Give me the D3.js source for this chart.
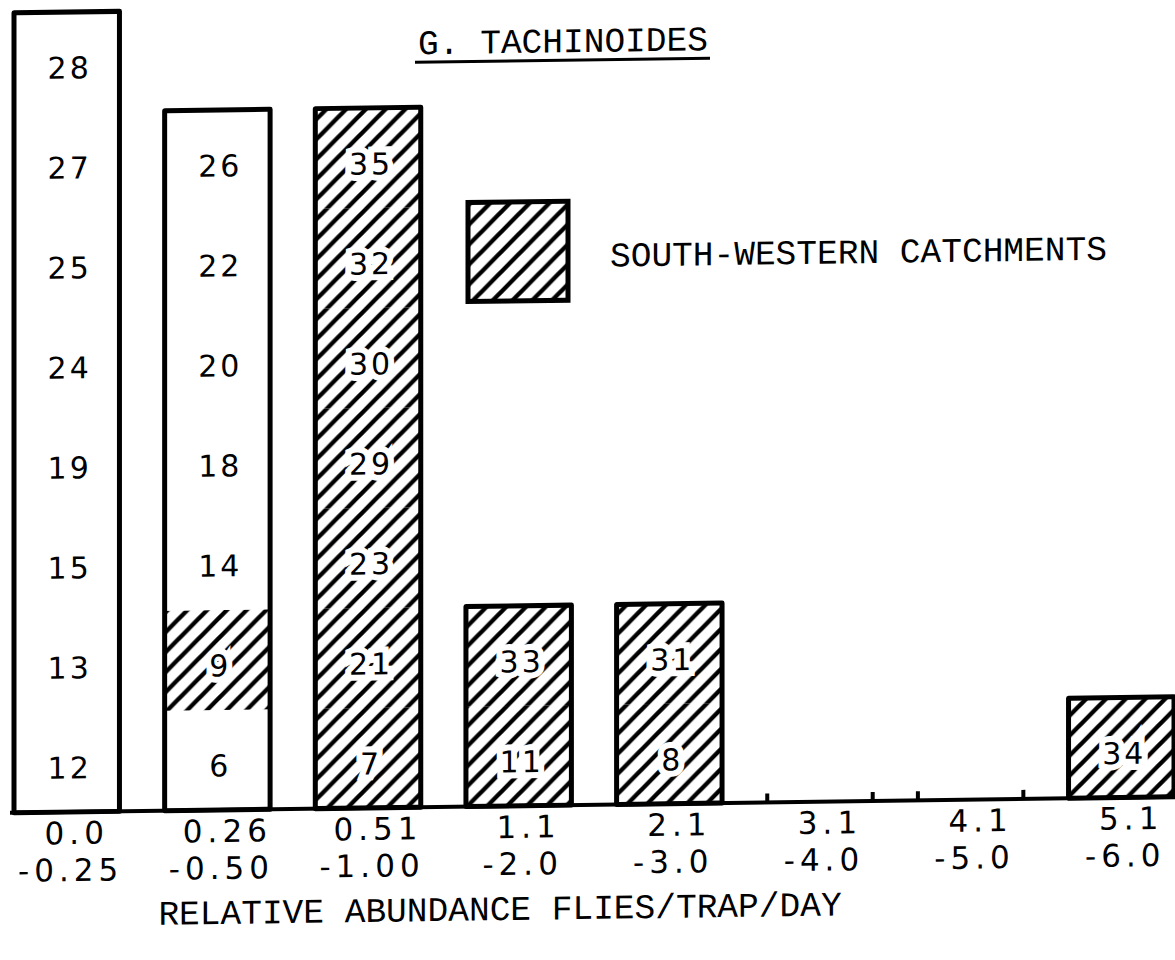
<!DOCTYPE html>
<html>
<head>
<meta charset="utf-8">
<script src="https://cdn.jsdelivr.net/npm/d3@7"></script>
<style>
  html, body { margin: 0; padding: 0; background: #fff; }
  svg { display: block; }
</style>
</head>
<body>
<svg id="chart" width="1175" height="960"></svg>
<script>
// Abundance classes (flies / trap / day): lower and upper bounds
const classLow  = ["0.0", "0.26", "0.51", "1.1", "2.1", "3.1", "4.1", "5.1"];
const classHigh = ["-0.25", "-0.50", "-1.00", "-2.0", "-3.0", "-4.0", "-5.0", "-6.0"];

// Catchment numbers falling in each class, stacked bottom to top
const catchments0 = [12, 13, 15, 19, 24, 25, 27, 28];
const catchments1 = [6, 9, 14, 18, 20, 22, 26];
const catchments2 = [7, 21, 23, 29, 30, 32, 35];
const catchments3 = [11, 33];
const catchments4 = [8, 31];
const catchments5 = [];
const catchments6 = [];
const catchments7 = [34];
const catchmentsByClass = [catchments0, catchments1, catchments2, catchments3,
                           catchments4, catchments5, catchments6, catchments7];

// South-western catchments (hatched)
const southWestern = [7, 8, 9, 11, 21, 23, 29, 30, 31, 32, 33, 34, 35];

const titleText = "G. TACHINOIDES";
const legendText = "SOUTH-WESTERN CATCHMENTS";
const axisTitle = "RELATIVE ABUNDANCE FLIES/TRAP/DAY";

const svg = d3.select("#chart");
svg.append("rect").attr("width", 1175).attr("height", 960).attr("fill", "#fff");

// diagonal hatching
const P = 20;
const defs = svg.append("defs");
const pat = defs.append("pattern")
  .attr("id", "hatch")
  .attr("patternUnits", "userSpaceOnUse")
  .attr("width", P).attr("height", P);
pat.append("rect").attr("width", P).attr("height", P).attr("fill", "#fff");
pat.append("path")
  .attr("d", `M${-P/4},${P/4} L${P/4},${-P/4} M0,${P} L${P},0 M${P*3/4},${P*5/4} L${P*5/4},${P*3/4}`)
  .attr("stroke", "#000").attr("stroke-width", 4.4);

// the printed sheet sits slightly tilted
const g = svg.append("g").attr("transform", "skewY(-0.79)");

const idx = d3.range(classLow.length);
const x = d3.scaleBand().domain(idx).range([14, 1174]).paddingInner(0.3);
const maxCount = 8;
const y = d3.scaleLinear().domain([0, maxCount]).range([813, 13]);

const monoFont = "'Liberation Mono', 'DejaVu Sans Mono', monospace";
const sansFont = "'DejaVu Sans', sans-serif";

// flat stack of unit boxes
const cells = [];
catchmentsByClass.forEach((list, i) => {
  list.forEach((c, k) => cells.push({ cls: i, level: k, id: c, sw: southWestern.includes(c) }));
});

// unit fills
g.selectAll("rect.cell")
  .data(cells)
  .join("rect")
  .attr("class", "cell")
  .attr("x", d => x(d.cls))
  .attr("width", x.bandwidth())
  .attr("y", d => y(d.level + 1))
  .attr("height", d => y(d.level) - y(d.level + 1))
  .attr("fill", d => d.sw ? "url(#hatch)" : "#fff");

// catchment numbers
g.selectAll("text.cell-label")
  .data(cells)
  .join("text")
  .attr("class", "cell-label")
  .attr("x", d => x(d.cls) + x.bandwidth() / 2 + 3)
  .attr("y", d => (y(d.level) + y(d.level + 1)) / 2 + 6)
  .attr("dy", "0.35em")
  .attr("text-anchor", "middle")
  .attr("font-family", sansFont)
  .attr("font-size", 30)
  .attr("letter-spacing", 3)
  .attr("fill", "#000")
  .attr("stroke", d => d.sw ? "#fff" : "none")
  .attr("stroke-width", 12)
  .attr("stroke-linejoin", "miter")
  .attr("paint-order", "stroke")
  .text(d => d.id);

// bar outlines
const counts = catchmentsByClass.map((list, i) => ({ cls: i, n: list.length }));
g.selectAll("rect.bar")
  .data(counts.filter(d => d.n > 0))
  .join("rect")
  .attr("class", "bar")
  .attr("x", d => x(d.cls))
  .attr("width", x.bandwidth())
  .attr("y", d => y(d.n))
  .attr("height", d => y(0) - y(d.n))
  .attr("fill", "none")
  .attr("stroke", "#000")
  .attr("stroke-width", 5)
  .attr("stroke-linejoin", "round");

// baseline
g.append("line")
  .attr("x1", 10).attr("x2", 1175)
  .attr("y1", y(0)).attr("y2", y(0))
  .attr("stroke", "#000").attr("stroke-width", 4);

// class boundary ticks for empty classes
const emptyTicks = [];
counts.filter(d => d.n === 0).forEach(d => {
  emptyTicks.push(x(d.cls));
  emptyTicks.push(x(d.cls) + x.bandwidth());
});
g.selectAll("line.tick")
  .data(emptyTicks)
  .join("line")
  .attr("class", "tick")
  .attr("x1", d => d).attr("x2", d => d)
  .attr("y1", y(0)).attr("y2", y(0) - 9)
  .attr("stroke", "#000").attr("stroke-width", 4);

// class labels (two lines)
g.selectAll("text.low")
  .data(idx)
  .join("text")
  .attr("class", "low")
  .attr("x", i => x(i) + x.bandwidth() / 2 + 10)
  .attr("y", 845)
  .attr("text-anchor", "middle")
  .attr("font-family", sansFont)
  .attr("font-size", 31)
  .attr("letter-spacing", 5)
  .text(i => classLow[i]);

g.selectAll("text.high")
  .data(idx)
  .join("text")
  .attr("class", "high")
  .attr("x", i => x(i) + x.bandwidth() / 2 + 4)
  .attr("y", 882)
  .attr("text-anchor", "middle")
  .attr("font-family", sansFont)
  .attr("font-size", 31)
  .attr("letter-spacing", 5)
  .text(i => classHigh[i]);

// axis title
g.append("text")
  .attr("x", 500).attr("y", 927)
  .attr("text-anchor", "middle")
  .attr("font-family", monoFont)
  .attr("font-size", 34.5)
  .text(axisTitle);

// title with underline
g.append("text")
  .attr("x", 563).attr("y", 60)
  .attr("text-anchor", "middle")
  .attr("font-family", monoFont)
  .attr("font-size", 34.5)
  .text(titleText);
g.append("line")
  .attr("x1", 415).attr("x2", 710)
  .attr("y1", 68).attr("y2", 68)
  .attr("stroke", "#000").attr("stroke-width", 3);

// legend
g.append("rect")
  .attr("x", 468).attr("y", 209)
  .attr("width", 100).attr("height", 99)
  .attr("fill", "url(#hatch)")
  .attr("stroke", "#000").attr("stroke-width", 5);
g.append("text")
  .attr("x", 610).attr("y", 275)
  .attr("font-family", monoFont)
  .attr("font-size", 34.5)
  .text(legendText);
</script>
</body>
</html>
